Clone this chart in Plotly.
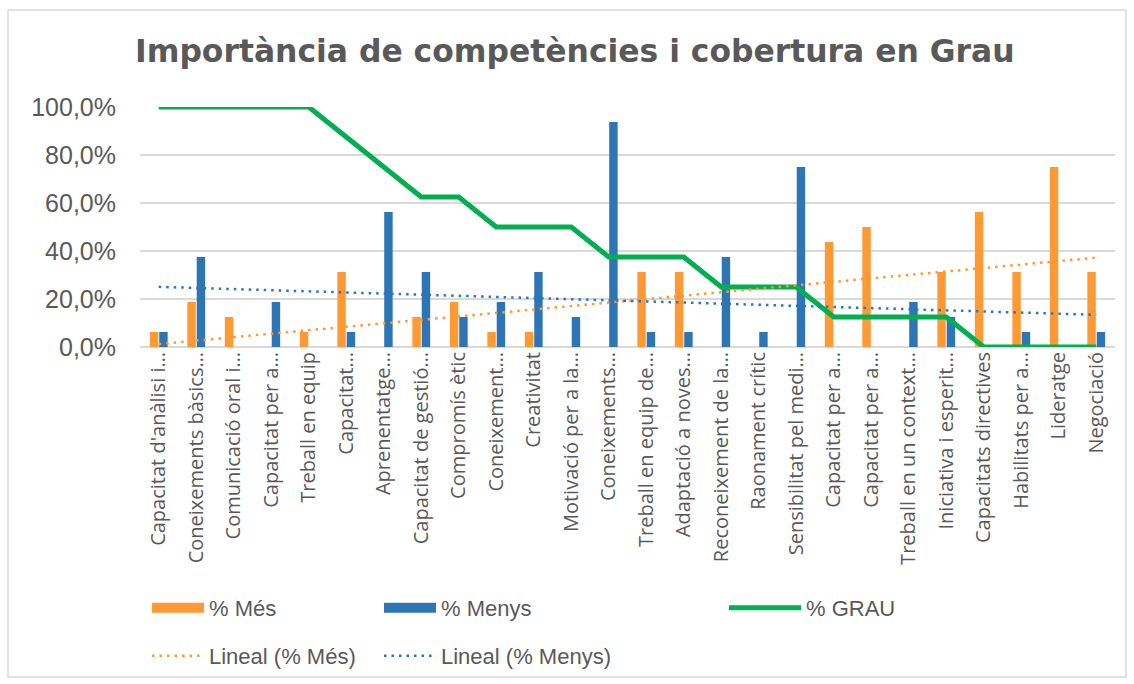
import numpy as np
import plotly.graph_objects as go

# Competence labels (as shown, truncated)
categories = [
    "Capacitat d'anàlisi i…", "Coneixements bàsics…", "Comunicació oral i…",
    "Capacitat per a…", "Treball en equip", "Capacitat…", "Aprenentatge…",
    "Capacitat de gestió…", "Compromís ètic", "Coneixement…", "Creativitat",
    "Motivació per a la…", "Coneixements…", "Treball en equip de…",
    "Adaptació a noves…", "Reconeixement de la…", "Raonament crític",
    "Sensibilitat pel medi…", "Capacitat per a…", "Capacitat per a…",
    "Treball en un context…", "Iniciativa i esperit…", "Capacitats directives",
    "Habilitats per a…", "Lideratge", "Negociació",
]

# Percentages
mes = [6.25, 18.75, 12.5, 0, 6.25, 31.25, 0, 12.5, 18.75, 6.25, 6.25, 0, 0,
       31.25, 31.25, 0, 0, 0, 43.75, 50, 0, 31.25, 56.25, 31.25, 75, 31.25]
menys = [6.25, 37.5, 0, 18.75, 0, 6.25, 56.25, 31.25, 12.5, 18.75, 31.25, 12.5,
         93.75, 6.25, 6.25, 37.5, 6.25, 75, 0, 0, 18.75, 12.5, 0, 6.25, 0, 6.25]
grau = [100, 100, 100, 100, 100, 87.5, 75, 62.5, 62.5, 50, 50, 50, 37.5, 37.5,
        37.5, 25, 25, 25, 12.5, 12.5, 12.5, 12.5, 0, 0, 0, 0]

y_ticks = [0, 20, 40, 60, 80, 100]
y_tick_text = [f"{v:.1f}%".replace(".", ",") for v in y_ticks]

ORANGE = "#FF9933"
BLUE = "#2E75B6"
GREEN = "#00B050"
TEXT = "#595959"
GRID = "#D9D9D9"

W, H = 1134, 684
ML, MR, MT, MB = 140, 19, 107, 337

x = np.arange(len(categories))

# Linear trendlines (least squares over category index)
trend_mes = np.polyval(np.polyfit(x, mes, 1), x)
trend_menys = np.polyval(np.polyfit(x, menys, 1), x)

fig = go.Figure()
fig.add_trace(go.Bar(x=x, y=mes, name="% Més", marker=dict(color=ORANGE, line_width=0),
                     showlegend=False))
fig.add_trace(go.Bar(x=x, y=menys, name="% Menys", marker=dict(color=BLUE, line_width=0),
                     showlegend=False))
# Legend keys for the bar series drawn as wide blocks
fig.add_trace(go.Scatter(x=[None], y=[None], name="% Més", mode="lines",
                         line=dict(color=ORANGE, width=13), legend="legend"))
fig.add_trace(go.Scatter(x=[None], y=[None], name="% Menys", mode="lines",
                         line=dict(color=BLUE, width=13), legend="legend"))
fig.add_trace(go.Scatter(x=x, y=grau, name="% GRAU", mode="lines",
                         line=dict(color=GREEN, width=5), legend="legend2"))
fig.add_trace(go.Scatter(x=x, y=trend_mes, name="Lineal (% Més)", mode="lines",
                         line=dict(color=ORANGE, width=2.5, dash="2.5px,5px"),
                         legend="legend3"))
fig.add_trace(go.Scatter(x=x, y=trend_menys, name="Lineal (% Menys)", mode="lines",
                         line=dict(color=BLUE, width=2.5, dash="2.5px,5px"),
                         legend="legend3"))

pw = W - ML - MR
ph = H - MT - MB


def px_x(v):
    return (v - ML) / pw


def px_y(v):
    return (H - MB - v) / ph


legend_font = dict(family="Liberation Sans, Arial", size=22, color=TEXT)
legend_common = dict(orientation="h", xref="container", yref="container",
                     xanchor="left", yanchor="middle", bgcolor="rgba(0,0,0,0)",
                     font=legend_font, entrywidthmode="pixels")

fig.update_layout(
    width=W, height=H,
    margin=dict(l=ML, r=MR, t=MT, b=MB),
    paper_bgcolor="white", plot_bgcolor="white",
    barmode="group", bargap=0.5, bargroupgap=0.1,
    title=dict(text="<b>Importància de competències i cobertura en Grau</b>",
               font=dict(family="DejaVu Sans", size=31.4, color=TEXT),
               xref="container", yref="container", x=135 / W, xanchor="left",
               y=1 - 51 / H, yanchor="middle"),
    xaxis=dict(range=[-0.5, len(categories) - 0.5], tickmode="array",
               tickvals=list(x), ticktext=categories, tickangle=-90,
               showgrid=False, zeroline=False, showline=False, ticks="",
               tickfont=dict(family="Open Sans, Noto Sans", size=20, color=TEXT)),
    yaxis=dict(range=[0, 100], tickmode="array", tickvals=y_ticks, ticktext=y_tick_text,
               showgrid=True, gridcolor=GRID, gridwidth=1.5, zeroline=True,
               zerolinecolor=GRID, zerolinewidth=1.5, showline=False, ticks="",
               ticklabelstandoff=23,
               tickfont=dict(family="Liberation Sans, Arial", size=25, color=TEXT)),
    legend=dict(x=147 / W, y=1 - 608 / H, entrywidth=165, itemwidth=52, **legend_common),
    legend2=dict(x=724 / W, y=1 - 608 / H, entrywidth=120, itemwidth=72, **legend_common),
    legend3=dict(x=147 / W, y=1 - 656 / H, entrywidth=165, itemwidth=52, **legend_common),
    showlegend=True,
    shapes=[dict(type="rect", xref="paper", yref="paper",
                 x0=px_x(8), x1=px_x(1126), y0=px_y(677), y1=px_y(10),
                 line=dict(color=GRID, width=1.5), fillcolor="rgba(0,0,0,0)",
                 layer="below")],
)

fig.write_html("out.html")
